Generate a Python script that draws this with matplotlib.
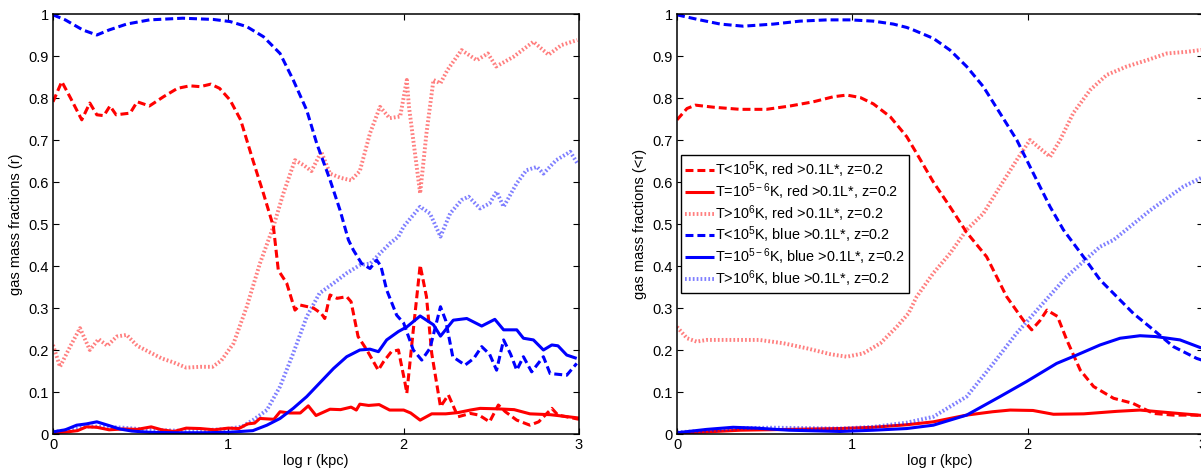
import matplotlib
matplotlib.use("Agg")
import matplotlib.pyplot as plt

plt.rcParams['font.family'] = ['Liberation Sans', 'DejaVu Sans']
plt.rcParams['mathtext.fontset'] = 'custom'
plt.rcParams['mathtext.rm'] = 'Liberation Sans'
plt.rcParams['mathtext.it'] = 'Liberation Sans:italic'
plt.rcParams['mathtext.bf'] = 'Liberation Sans:bold'

# ---------------- data: left panel (r) ----------------
lrd_x = [0, 0.05, 0.10, 0.164, 0.21, 0.25, 0.29, 0.325, 0.36, 0.40, 0.44, 0.48, 0.55, 0.63, 0.71, 0.78,
         0.84, 0.90, 0.95, 1.01, 1.07, 1.14, 1.2, 1.257, 1.285, 1.333, 1.38, 1.41, 1.485, 1.53, 1.55,
         1.58, 1.62, 1.675, 1.70, 1.74, 1.79, 1.855, 1.885, 1.93, 1.97, 2.008, 2.018, 2.055, 2.094, 2.13,
         2.16, 2.21, 2.255, 2.31, 2.38, 2.43, 2.49, 2.54, 2.58, 2.645, 2.72, 2.77, 2.845, 2.88, 2.94, 3.0]
lrd_y = [0.791, 0.839, 0.80, 0.748, 0.788, 0.76, 0.758, 0.781, 0.76, 0.762, 0.764, 0.791, 0.781, 0.803,
         0.823, 0.829, 0.827, 0.833, 0.823, 0.795, 0.748, 0.652, 0.573, 0.494, 0.39, 0.359, 0.295, 0.307,
         0.30, 0.287, 0.275, 0.331, 0.323, 0.327, 0.315, 0.232, 0.2, 0.152, 0.172, 0.196, 0.2, 0.121,
         0.097, 0.248, 0.402, 0.327, 0.192, 0.065, 0.093, 0.041, 0.049, 0.045, 0.029, 0.069, 0.053,
         0.033, 0.021, 0.029, 0.061, 0.045, 0.04, 0.035]

lrs_x = [0, 0.08, 0.14, 0.19, 0.25, 0.32, 0.40, 0.48, 0.56, 0.62, 0.69, 0.76, 0.84, 0.92, 1.0, 1.06,
         1.11, 1.15, 1.18, 1.22, 1.26, 1.295, 1.35, 1.41, 1.456, 1.50, 1.58, 1.64, 1.70, 1.73, 1.75,
         1.80, 1.86, 1.92, 2.0, 2.04, 2.094, 2.16, 2.24, 2.31, 2.38, 2.436, 2.53, 2.63, 2.72, 2.835,
         2.92, 3.0]
lrs_y = [0.003, 0.005, 0.008, 0.017, 0.016, 0.01, 0.012, 0.011, 0.017, 0.01, 0.006, 0.014, 0.013, 0.01,
         0.014, 0.013, 0.024, 0.026, 0.037, 0.036, 0.035, 0.053, 0.05, 0.05, 0.067, 0.044, 0.059, 0.058,
         0.064, 0.057, 0.071, 0.068, 0.07, 0.057, 0.057, 0.05, 0.033, 0.048, 0.048, 0.051, 0.057, 0.061,
         0.06, 0.058, 0.048, 0.046, 0.042, 0.038]

lro_x = [0, 0.04, 0.10, 0.154, 0.21, 0.26, 0.31, 0.363, 0.42, 0.48, 0.55, 0.62, 0.69, 0.76, 0.84, 0.91,
         0.96, 1.03, 1.105, 1.18, 1.257, 1.314, 1.38, 1.43, 1.474, 1.53, 1.58, 1.64, 1.70, 1.75, 1.808,
         1.865, 1.92, 1.98, 2.018, 2.03, 2.094, 2.13, 2.17, 2.21, 2.25, 2.33, 2.417, 2.48, 2.527, 2.626,
         2.74, 2.826, 2.9, 2.99]
lro_y = [0.212, 0.16, 0.21, 0.252, 0.2, 0.226, 0.21, 0.232, 0.236, 0.21, 0.195, 0.18, 0.17, 0.158, 0.16,
         0.16, 0.175, 0.216, 0.303, 0.406, 0.494, 0.573, 0.652, 0.64, 0.626, 0.672, 0.62, 0.61, 0.604,
         0.626, 0.716, 0.779, 0.752, 0.756, 0.843, 0.78, 0.573, 0.716, 0.843, 0.835, 0.867, 0.914, 0.89,
         0.906, 0.875, 0.898, 0.934, 0.903, 0.926, 0.938]

lbd_x = [0, 0.07, 0.17, 0.25, 0.32, 0.42, 0.55, 0.74, 0.915, 1.01, 1.105, 1.2, 1.295, 1.37, 1.447,
         1.504, 1.58, 1.637, 1.685, 1.713, 1.76, 1.808, 1.846, 1.87, 1.903, 1.96, 2.0, 2.055, 2.103,
         2.15, 2.21, 2.24, 2.28, 2.35, 2.40, 2.445, 2.49, 2.53, 2.57, 2.61, 2.645, 2.683, 2.73, 2.797,
         2.835, 2.93, 2.987]
lbd_y = [0.998, 0.986, 0.962, 0.95, 0.962, 0.976, 0.986, 0.99, 0.987, 0.982, 0.97, 0.946, 0.906, 0.843,
         0.771, 0.692, 0.605, 0.533, 0.462, 0.438, 0.406, 0.394, 0.414, 0.40, 0.343, 0.283, 0.264, 0.2,
         0.176, 0.204, 0.303, 0.27, 0.184, 0.164, 0.18, 0.208, 0.19, 0.152, 0.224, 0.19, 0.152, 0.184,
         0.148, 0.184, 0.144, 0.14, 0.168]

lbs_x = [0, 0.07, 0.135, 0.19, 0.25, 0.32, 0.38, 0.45, 0.55, 0.7, 0.85, 1.0, 1.14, 1.22, 1.295, 1.37,
         1.447, 1.52, 1.6, 1.675, 1.75, 1.808, 1.856, 1.903, 1.97, 2.018, 2.094, 2.17, 2.21, 2.283,
         2.36, 2.445, 2.52, 2.57, 2.645, 2.683, 2.74, 2.797, 2.845, 2.88, 2.93, 2.987]
lbs_y = [0.005, 0.01, 0.021, 0.024, 0.029, 0.02, 0.012, 0.007, 0.004, 0.003, 0.003, 0.004, 0.008, 0.021,
         0.037, 0.061, 0.089, 0.121, 0.156, 0.184, 0.2, 0.202, 0.196, 0.224, 0.244, 0.255, 0.281, 0.26,
         0.233, 0.271, 0.275, 0.257, 0.273, 0.248, 0.248, 0.228, 0.224, 0.2, 0.212, 0.21, 0.188, 0.18]

lbo_x = [0, 0.1, 0.2, 0.3, 0.4, 0.55, 0.7, 0.85, 1.0, 1.08, 1.14, 1.22, 1.295, 1.37, 1.447, 1.52, 1.6,
         1.675, 1.75, 1.81, 1.865, 1.922, 1.97, 2.0, 2.094, 2.15, 2.21, 2.265, 2.33, 2.37, 2.436, 2.49,
         2.53, 2.57, 2.645, 2.70, 2.76, 2.797, 2.87, 2.95, 2.99]
lbo_y = [0.005, 0.01, 0.018, 0.017, 0.015, 0.01, 0.008, 0.009, 0.012, 0.018, 0.033, 0.057, 0.113, 0.192,
         0.279, 0.335, 0.359, 0.383, 0.402, 0.406, 0.43, 0.454, 0.47, 0.494, 0.541, 0.525, 0.47, 0.525,
         0.557, 0.565, 0.537, 0.549, 0.577, 0.541, 0.597, 0.628, 0.636, 0.62, 0.652, 0.672, 0.645]

# ---------------- data: right panel (<r) ----------------
rrd_x = [0, 0.057, 0.105, 0.21, 0.36, 0.51, 0.645, 0.778, 0.892, 0.968, 1.046, 1.12, 1.217, 1.31, 1.367,
         1.462, 1.557, 1.652, 1.766, 1.88, 1.975, 2.023, 2.07, 2.11, 2.17, 2.223, 2.3, 2.376, 2.49, 2.6,
         2.717, 2.83, 2.945, 3.0]
rrd_y = [0.748, 0.775, 0.783, 0.778, 0.773, 0.773, 0.781, 0.791, 0.803, 0.807, 0.801, 0.786, 0.755, 0.708,
         0.668, 0.6, 0.541, 0.48, 0.422, 0.327, 0.271, 0.248, 0.27, 0.295, 0.28, 0.224, 0.152, 0.113, 0.085,
         0.073, 0.049, 0.045, 0.045, 0.044]

rrs_x = [0, 0.17, 0.36, 0.64, 0.93, 1.12, 1.31, 1.462, 1.652, 1.80, 1.9, 2.03, 2.147, 2.32, 2.51, 2.64,
         2.83, 3.0]
rrs_y = [0.002, 0.005, 0.009, 0.011, 0.013, 0.016, 0.022, 0.029, 0.045, 0.053, 0.057, 0.056, 0.047, 0.048,
         0.054, 0.057, 0.05, 0.044]

rro_x = [0, 0.057, 0.112, 0.17, 0.36, 0.47, 0.608, 0.74, 0.875, 0.968, 1.063, 1.16, 1.253, 1.32, 1.367,
         1.462, 1.557, 1.652, 1.747, 1.842, 1.937, 2.013, 2.07, 2.128, 2.185, 2.26, 2.356, 2.451, 2.565,
         2.68, 2.793, 2.907, 3.0]
rro_y = [0.255, 0.228, 0.22, 0.224, 0.224, 0.224, 0.216, 0.204, 0.19, 0.184, 0.192, 0.216, 0.255, 0.287,
         0.327, 0.383, 0.43, 0.486, 0.525, 0.589, 0.652, 0.70, 0.68, 0.66, 0.70, 0.764, 0.819, 0.855, 0.875,
         0.89, 0.906, 0.91, 0.915]

rbd_x = [0, 0.13, 0.247, 0.378, 0.55, 0.70, 0.855, 0.99, 1.12, 1.234, 1.31, 1.348, 1.462, 1.557, 1.652,
         1.747, 1.842, 1.938, 2.033, 2.128, 2.204, 2.318, 2.413, 2.508, 2.603, 2.717, 2.831, 2.964, 3.0]
rbd_y = [0.998, 0.986, 0.976, 0.971, 0.976, 0.983, 0.986, 0.986, 0.983, 0.976, 0.968, 0.962, 0.942, 0.914,
         0.875, 0.827, 0.764, 0.70, 0.62, 0.541, 0.486, 0.422, 0.367, 0.327, 0.287, 0.248, 0.208, 0.18,
         0.175]

rbs_x = [0, 0.17, 0.32, 0.45, 0.64, 0.93, 1.12, 1.31, 1.462, 1.652, 1.842, 1.994, 2.165, 2.28, 2.413,
         2.527, 2.641, 2.73, 2.869, 2.983, 3.0]
rbs_y = [0.003, 0.011, 0.016, 0.014, 0.009, 0.006, 0.009, 0.013, 0.021, 0.045, 0.089, 0.125, 0.168, 0.188,
         0.212, 0.228, 0.234, 0.232, 0.224, 0.206, 0.204]

rbo_x = [0, 0.17, 0.36, 0.55, 0.93, 1.12, 1.31, 1.462, 1.652, 1.804, 1.937, 2.07, 2.223, 2.413, 2.49,
         2.7, 2.888, 3.0]
rbo_y = [0.004, 0.008, 0.014, 0.015, 0.013, 0.017, 0.027, 0.041, 0.089, 0.168, 0.24, 0.303, 0.375, 0.446,
         0.462, 0.533, 0.589, 0.612]

labels = [r'T<10$^5$K, red >0.1L*, z=0.2',
          r'T=10$^{5-6}$K, red >0.1L*, z=0.2',
          r'T>10$^6$K, red >0.1L*, z=0.2',
          r'T<10$^5$K, blue >0.1L*, z=0.2',
          r'T=10$^{5-6}$K, blue >0.1L*, z=0.2',
          r'T>10$^6$K, blue >0.1L*, z=0.2']

xticks = [0, 1, 2, 3]
yticks = [0, 0.1, 0.2, 0.3, 0.4, 0.5, 0.6, 0.7, 0.8, 0.9, 1]
yticklabels = ['0', '0.1', '0.2', '0.3', '0.4', '0.5', '0.6', '0.7', '0.8', '0.9', '1']

RED = '#ff0000'
BLUE = '#0000ff'
DASH = (0, (2.6, 1.3))
DOT = (0, (0.45, 0.55))
LW = 2.2


def style_axes(ax, ylabel):
    ax.set_xlim(0, 3)
    ax.set_ylim(0, 1)
    ax.set_xticks(xticks)
    ax.set_xticklabels([str(t) for t in xticks])
    ax.set_yticks(yticks)
    ax.set_yticklabels(yticklabels)
    ax.tick_params(direction='in', top=True, right=True, length=4, width=0.8,
                   labelsize=10.5, pad=3)
    for s in ax.spines.values():
        s.set_linewidth(1.1)
    ax.set_xlabel('log r (kpc)', fontsize=10.5, labelpad=1)
    ax.set_ylabel(ylabel, fontsize=10.5, labelpad=4)


def draw(ax, series):
    handles = []
    for (x, y, color, ls, alpha, lw) in series:
        h, = ax.plot(x, y, color=color, linestyle=ls, lw=lw, alpha=alpha,
                     solid_capstyle='butt', dash_capstyle='butt')
        handles.append(h)
    return handles


fig = plt.figure(figsize=(12.01, 4.71), dpi=100)
ax1 = fig.add_axes([53 / 1201, 37 / 471, 526 / 1201, 420 / 471])
ax2 = fig.add_axes([677 / 1201, 37 / 471, 526 / 1201, 420 / 471])

draw(ax1, [
    (lro_x, lro_y, RED, DOT, 0.5, 2.8),
    (lbo_x, lbo_y, BLUE, DOT, 0.5, 2.8),
    (lrd_x, lrd_y, RED, DASH, 1, LW),
    (lrs_x, lrs_y, RED, '-', 1, LW),
    (lbd_x, lbd_y, BLUE, DASH, 1, LW),
    (lbs_x, lbs_y, BLUE, '-', 1, LW),
])

h = draw(ax2, [
    (rrd_x, rrd_y, RED, DASH, 1, LW),
    (rrs_x, rrs_y, RED, '-', 1, LW),
    (rro_x, rro_y, RED, DOT, 0.5, 2.8),
    (rbd_x, rbd_y, BLUE, DASH, 1, LW),
    (rbs_x, rbs_y, BLUE, '-', 1, LW),
    (rbo_x, rbo_y, BLUE, DOT, 0.5, 2.8),
])

style_axes(ax1, 'gas mass fractions (r)')
style_axes(ax2, 'gas mass fractions (<r)')

leg = ax2.legend(h, labels, loc='upper left', bbox_to_anchor=(0.007, 0.664),
                 fontsize=10.4, frameon=True, fancybox=False, framealpha=1,
                 edgecolor='black', handlelength=2.0, handletextpad=0.1,
                 labelspacing=0.08, borderpad=0.3, borderaxespad=0)
leg.get_frame().set_linewidth(1.0)

fig.savefig('out.png', dpi=100)
